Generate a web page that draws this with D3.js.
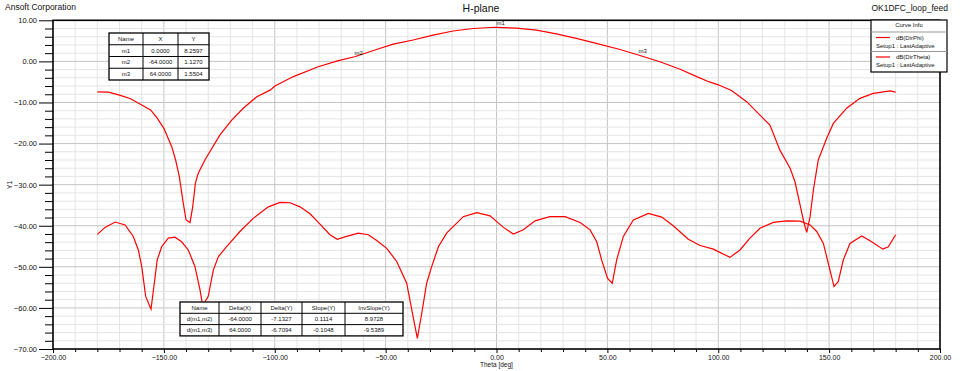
<!DOCTYPE html>
<meta charset="utf-8">
<script src="https://d3js.org/d3.v7.min.js"></script>
<style>
  body { margin: 0; background: #fff; }
  text { font-family: "Liberation Sans", Arial, sans-serif; fill: #111; }
</style>
<div id="chart"></div>
<script>

// data
var thetaPhi = [-180, -175, -170, -165, -160, -156, -153, -150, -146.5, -144.7, -143, -141.5, -140, -138.2, -137, -135.8, -134.5, -131.5, -124.7, -119.4, -114.2, -108.1, -102.1, -99.9, -91.6, -80.4, -71.3, -64, -54.1, -46.6, -37.6, -28.6, -19.6, -10.5, -3, 0, 9, 18, 27, 36, 45, 55.7, 64, 73.7, 82.8, 90.3, 96, 100, 106, 112.8, 119.6, 123.3, 127.8, 132.4, 134.6, 136.9, 138.7, 139.9, 141.4, 142.9, 145.1, 148.9, 151.9, 157.9, 163.9, 169.9, 177.5, 180];
var dirPhi = [-7.4, -7.5, -8.2, -9.1, -10.6, -11.8, -13.8, -16.3, -20.7, -24.0, -28.1, -33.7, -38.6, -39.2, -35.4, -29.7, -27.2, -24.0, -17.9, -14.3, -11.4, -8.6, -7.0, -6.0, -3.7, -1.3, 0.2, 1.13, 2.9, 4.2, 5.2, 6.4, 7.4, 8.0, 8.25, 8.26, 8.1, 7.6, 6.7, 5.6, 4.4, 2.9, 1.55, -0.1, -1.9, -3.7, -5.0, -5.7, -7.1, -9.8, -13.5, -15.5, -21.6, -26.0, -29.3, -34.9, -39.4, -41.6, -37.8, -31.3, -24.0, -18.7, -15.1, -11.4, -9.0, -7.8, -7.2, -7.5];

var thetaTheta = [-180, -176.5, -172, -167.5, -163.8, -161.5, -160, -158.2, -155.8, -154.5, -153, -151, -148, -145, -142, -139, -136, -133.7, -132.5, -130, -127.7, -125.4, -121.7, -115.7, -109.7, -102.9, -97.6, -93.1, -88.6, -84.1, -79.6, -75.1, -71.8, -67.6, -62.3, -57.8, -54, -49.5, -45, -40.5, -38.2, -35.7, -33.7, -31.5, -29.2, -26.2, -22.5, -15, -8.9, -2.9, 3.1, 7.6, 12.1, 17.4, 24.1, 30.9, 37.7, 42.2, 45.2, 47.4, 50.1, 52.2, 54.2, 57.2, 61.7, 68.5, 74.5, 79.7, 86.5, 91.8, 97.8, 105.3, 109.8, 114.3, 118.8, 124.8, 130.9, 136.9, 141.4, 144.4, 147.4, 149.6, 152.2, 154.1, 156.4, 159.4, 164.7, 169.2, 174.2, 176.7, 180];
var dirTheta = [-42.1, -40.4, -39.1, -39.8, -42.6, -45.9, -49.9, -57.2, -60.3, -54.8, -48.3, -45.1, -43.0, -42.8, -43.9, -45.9, -49.9, -55.6, -59.5, -57.2, -50.8, -47.5, -45.1, -41.4, -38.2, -35.4, -34.3, -34.4, -35.4, -37.1, -39.6, -42.2, -43.3, -42.6, -41.8, -42.2, -43.6, -45.5, -48.7, -54.0, -60.5, -67.4, -61.3, -54.0, -49.9, -45.1, -41.8, -37.8, -36.8, -37.6, -40.4, -42.0, -41.0, -38.8, -37.8, -37.8, -39.2, -41.0, -43.9, -48.3, -52.8, -54.0, -48.3, -42.6, -38.6, -37.0, -37.9, -40.0, -43.3, -44.8, -45.7, -47.7, -45.9, -43.0, -40.6, -39.2, -38.8, -38.9, -39.8, -41.4, -44.3, -49.1, -54.8, -53.6, -48.3, -44.3, -42.5, -43.9, -45.7, -45.1, -42.2];

var markerNames = ["m1", "m2", "m3"];
var markerX = [0, -64, 64];
var markerY = [8.2597, 1.1270, 1.5504];

var deltaNames = ["d(m1,m2)", "d(m1,m3)"];
var deltaX = ["-64.0000", "64.0000"];
var deltaY = ["-7.1327", "-6.7094"];
var slopeY = ["0.1114", "-0.1048"];
var invSlopeY = ["8.9728", "-9.5389"];

var xTicks = [-200, -150, -100, -50, 0, 50, 100, 150, 200];
var yTicks = [10, 0, -10, -20, -30, -40, -50, -60, -70];

var W = 960, H = 371;
var pLeft = 53, pRight = 940, pTop = 20.3, pBottom = 349;

var svg = d3.select("#chart").append("svg")
  .attr("width", W).attr("height", H);
svg.append("rect").attr("width", W).attr("height", H).attr("fill", "#fff");

var x = d3.scaleLinear().domain([-200, 200]).range([pLeft, pRight]);
var y = d3.scaleLinear().domain([-70, 10]).range([pBottom, pTop]);

// grid
var g = svg.append("g");
d3.range(-190, 200, 10).forEach(function(v) {
  g.append("line").attr("x1", x(v)).attr("x2", x(v)).attr("y1", pTop).attr("y2", pBottom)
    .attr("stroke", v % 50 === 0 ? "#c4c4c4" : "#e4e4e4").attr("stroke-width", 1);
});
d3.range(-68, 10, 2).forEach(function(v) {
  g.append("line").attr("x1", pLeft).attr("x2", pRight).attr("y1", y(v)).attr("y2", y(v))
    .attr("stroke", v % 10 === 0 ? "#c4c4c4" : "#e4e4e4").attr("stroke-width", 1);
});

// curves
var line1 = d3.line().x(function(d) { return x(d[0]); }).y(function(d) { return y(d[1]); });
svg.append("path").datum(d3.zip(thetaPhi, dirPhi))
  .attr("d", line1).attr("fill", "none").attr("stroke", "#ff0000").attr("stroke-width", 1.2);
svg.append("path").datum(d3.zip(thetaTheta, dirTheta))
  .attr("d", line1).attr("fill", "none").attr("stroke", "#ff0000").attr("stroke-width", 1.2);

// markers
markerNames.forEach(function(n, i) {
  svg.append("text").attr("x", x(markerX[i])).attr("y", y(markerY[i]) - 2)
    .attr("font-size", "6px").text(n);
});

// axes
var fmt = d3.format(".2f");
svg.append("g").attr("transform", "translate(" + pLeft + ",0)")
  .call(d3.axisLeft(y).tickValues(d3.range(-68, 10, 2).filter(function(v) { return v % 10 !== 0; }))
    .tickSize(8).tickFormat(""))
  .call(function(a) { a.select(".domain").remove(); a.selectAll("line").attr("stroke", "#000"); });
svg.append("g").attr("transform", "translate(" + pLeft + ",0)")
  .call(d3.axisLeft(y).tickValues(yTicks).tickSize(14).tickPadding(2).tickFormat(fmt))
  .call(function(a) {
    a.select(".domain").remove();
    a.selectAll("line").attr("stroke", "#000");
    a.selectAll("text").attr("font-size", "7.5px").attr("font-family", "Liberation Sans, Arial").attr("fill", "#111");
  });
svg.append("g").attr("transform", "translate(0," + pBottom + ")")
  .call(d3.axisBottom(x).tickValues(d3.range(-190, 200, 10).filter(function(v) { return v % 50 !== 0; }))
    .tickSize(3).tickFormat(""))
  .call(function(a) { a.select(".domain").remove(); a.selectAll("line").attr("stroke", "#000"); });
svg.append("g").attr("transform", "translate(0," + pBottom + ")")
  .call(d3.axisBottom(x).tickValues(xTicks).tickSize(4).tickPadding(2).tickFormat(fmt))
  .call(function(a) {
    a.select(".domain").remove();
    a.selectAll("line").attr("stroke", "#000");
    a.selectAll("text").attr("font-size", "7px").attr("font-family", "Liberation Sans, Arial").attr("fill", "#111");
  });

// frame
svg.append("rect").attr("x", pLeft).attr("y", pTop).attr("width", pRight - pLeft).attr("height", pBottom - pTop)
  .attr("fill", "none").attr("stroke", "#000").attr("stroke-width", 1.6);

// titles
svg.append("text").attr("x", 5).attr("y", 10).attr("font-size", "8.5px").text("Ansoft Corporation");
svg.append("text").attr("x", 481).attr("y", 12).attr("text-anchor", "middle").attr("font-size", "10.5px").text("H-plane");
svg.append("text").attr("x", 948).attr("y", 11).attr("text-anchor", "end").attr("font-size", "8.5px").text("OK1DFC_loop_feed");
svg.append("text").attr("x", 480).attr("y", 367).attr("font-size", "6.5px").text("Theta [deg]");
svg.append("text").attr("transform", "translate(12,185) rotate(-90)").attr("text-anchor", "middle")
  .attr("font-size", "7px").text("Y1");

// legend
var lg = svg.append("g");
lg.append("rect").attr("x", 871).attr("y", 20).attr("width", 76).attr("height", 52)
  .attr("fill", "#fff").attr("stroke", "#000").attr("stroke-width", 1.2);
lg.append("text").attr("x", 909).attr("y", 27).attr("text-anchor", "middle").attr("font-size", "6px").text("Curve Info");
lg.append("line").attr("x1", 871).attr("x2", 947).attr("y1", 32).attr("y2", 32).attr("stroke", "#999");
lg.append("line").attr("x1", 871).attr("x2", 947).attr("y1", 51.5).attr("y2", 51.5).attr("stroke", "#999");
[["dB(DirPhi)", 37.5], ["dB(DirTheta)", 57]].forEach(function(d) {
  lg.append("line").attr("x1", 876).attr("x2", 890).attr("y1", d[1]).attr("y2", d[1]).attr("stroke", "#ff0000").attr("stroke-width", 1.2);
  lg.append("text").attr("x", 896).attr("y", d[1] + 2).attr("font-size", "6px").text(d[0]);
  lg.append("text").attr("x", 876).attr("y", d[1] + 10).attr("font-size", "6px").text("Setup1 : LastAdaptive");
});

// tables
function table(x0, y0, colW, rowH, rows) {
  var t = svg.append("g");
  var w = d3.sum(colW), h = rowH * rows.length;
  t.append("rect").attr("x", x0).attr("y", y0).attr("width", w).attr("height", h)
    .attr("fill", "#fff").attr("stroke", "#000").attr("stroke-width", 1.3);
  var cx = x0;
  colW.forEach(function(cw, c) {
    if (c > 0) t.append("line").attr("x1", cx).attr("x2", cx).attr("y1", y0).attr("y2", y0 + h).attr("stroke", "#000");
    rows.forEach(function(r, i) {
      t.append("text").attr("x", cx + cw / 2).attr("y", y0 + rowH * i + rowH / 2 + 2)
        .attr("text-anchor", "middle").attr("font-size", "6px").text(r[c]);
    });
    cx += cw;
  });
  rows.forEach(function(r, i) {
    if (i > 0) t.append("line").attr("x1", x0).attr("x2", x0 + w).attr("y1", y0 + rowH * i).attr("y2", y0 + rowH * i).attr("stroke", "#000");
  });
}

var mRows = [["Name", "X", "Y"]];
markerNames.forEach(function(n, i) { mRows.push([n, markerX[i].toFixed(4), markerY[i].toFixed(4)]); });
table(109, 33, [34, 35, 31], 11.75, mRows);

var dRows = [["Name", "Delta(X)", "Delta(Y)", "Slope(Y)", "InvSlope(Y)"]];
deltaNames.forEach(function(n, i) { dRows.push([n, deltaX[i], deltaY[i], slopeY[i], invSlopeY[i]]); });
table(180, 302, [39, 42, 41, 43, 58], 11.3, dRows);

</script>
